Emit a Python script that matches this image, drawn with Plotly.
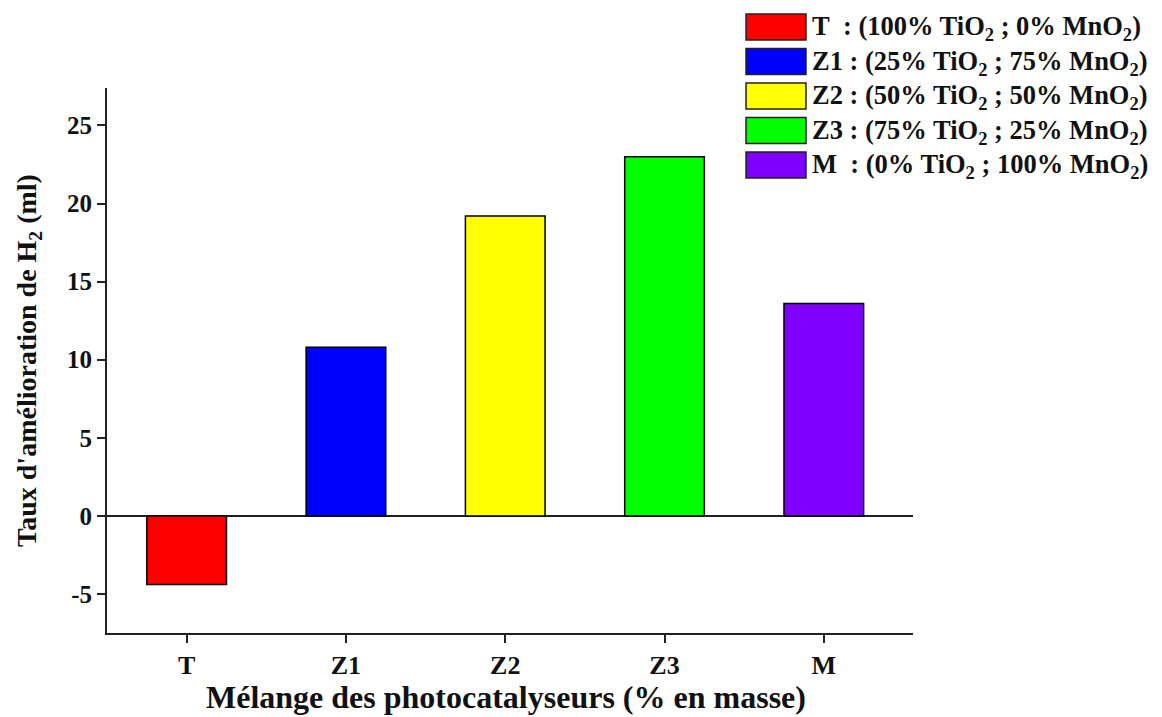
import plotly.graph_objects as go

categories = ["T", "Z1", "Z2", "Z3", "M"]
values = [-4.4, 10.8, 19.2, 23.0, 13.6]
colors = ["#ff0000", "#0000ff", "#ffff00", "#00ff00", "#8000ff"]
legend_labels = [
    "T\u00a0\u00a0: (100% TiO<sub>2</sub> ; 0% MnO<sub>2</sub>)",
    "Z1 : (25% TiO<sub>2</sub> ; 75% MnO<sub>2</sub>)",
    "Z2 : (50% TiO<sub>2</sub> ; 50% MnO<sub>2</sub>)",
    "Z3 : (75% TiO<sub>2</sub> ; 25% MnO<sub>2</sub>)",
    "M\u00a0\u00a0: (0% TiO<sub>2</sub> ; 100% MnO<sub>2</sub>)",
]
y_ticks = [-5, 0, 5, 10, 15, 20, 25]
x_title = "Mélange des photocatalyseurs (% en masse)"
y_title = "Taux d'amélioration de H<sub>2</sub> (ml)"

FONT = "Liberation Serif"
INK = "#111111"
W, H = 1162, 717
ML, MR, MT, MB = 107, 249, 88, 84


def px_to_paper_x(px):
    return (px - ML) / (W - ML - MR)


def px_to_paper_y(py):
    return 1 - (py - MT) / (H - MT - MB)


fig = go.Figure()
fig.add_trace(go.Bar(
    x=categories, y=values, width=0.5,
    marker=dict(color=colors, line=dict(color="black", width=1.5)),
    showlegend=False,
))

# legend drawn as large colour boxes with labels to the right
row_centers = [27, 61.5, 96, 130.5, 165]
for color, label, yc in zip(colors, legend_labels, row_centers):
    fig.add_shape(
        type="rect", xref="paper", yref="paper",
        x0=px_to_paper_x(746), x1=px_to_paper_x(806),
        y0=px_to_paper_y(yc + 13), y1=px_to_paper_y(yc - 13),
        fillcolor=color, line=dict(color="#222222", width=1.5),
    )
    fig.add_annotation(
        xref="paper", yref="paper",
        x=px_to_paper_x(810), y=px_to_paper_y(yc + 1),
        xanchor="left", yanchor="middle", showarrow=False,
        text="<b>" + label + "</b>",
        font=dict(family=FONT, size=26.5, color=INK),
    )

# x-axis title placed just above the bottom edge
fig.add_annotation(
    xref="paper", yref="paper",
    x=0.5 - 4 / (W - ML - MR), y=px_to_paper_y(697),
    xanchor="center", yanchor="middle", showarrow=False,
    text="<b>" + x_title + "</b>",
    font=dict(family=FONT, size=32, color=INK),
)

fig.update_layout(
    width=W, height=H,
    margin=dict(l=ML, r=MR, t=MT, b=MB),
    plot_bgcolor="white", paper_bgcolor="white",
    font=dict(family=FONT, color=INK),
)
fig.update_xaxes(
    range=[-0.5, 4.56], tickvals=categories, ticktext=[f"<b>{c}</b>" for c in categories],
    showline=True, linecolor="#222222", linewidth=2,
    ticks="outside", ticklen=8, tickwidth=1.5, tickcolor="#222222",
    tickfont=dict(family=FONT, size=26, color=INK),
    showgrid=False, mirror=False, automargin=False,
)
fig.update_yaxes(
    range=[-7.5, 27.4], tickvals=y_ticks, ticktext=[f"<b>{v}</b>" for v in y_ticks],
    showline=True, linecolor="#222222", linewidth=2,
    ticks="outside", ticklen=8, tickwidth=1.5, tickcolor="#222222",
    tickfont=dict(family=FONT, size=25, color=INK),
    showgrid=False, zeroline=True, zerolinecolor="#222222", zerolinewidth=1.5,
    automargin=False,
    title=dict(text="<b>" + y_title + "</b>",
               font=dict(family=FONT, size=28, color=INK), standoff=22),
)

fig.write_html("out.html")
